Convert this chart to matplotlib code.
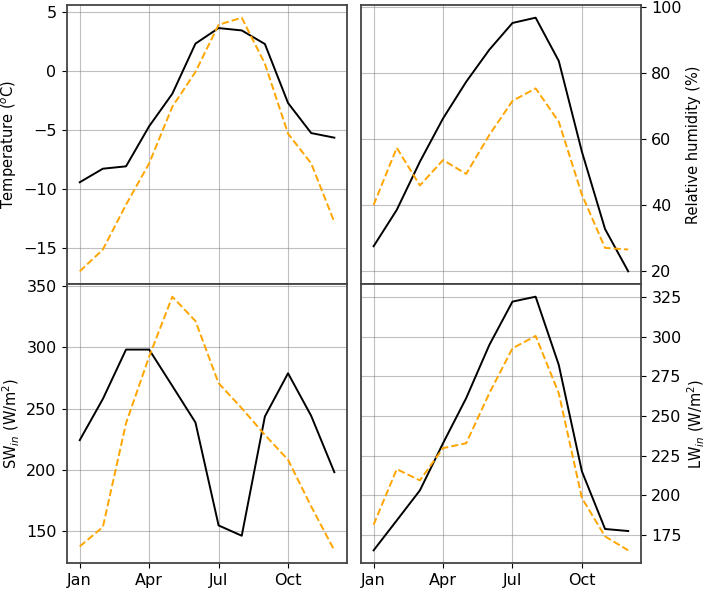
import matplotlib.pyplot as plt
import numpy as np

months = np.arange(1, 13)
tick_pos = [1, 4, 7, 10]
tick_labels = ['Jan', 'Apr', 'Jul', 'Oct']

temp_black = [-9.4, -8.25, -8.05, -4.65, -1.9, 2.35, 3.67, 3.47, 2.32, -2.68, -5.23, -5.62]
temp_orange = [-16.95, -15.1, -11.3, -7.8, -3.0, -0.05, 3.95, 4.55, 0.65, -5.28, -7.8, -12.77]

rh_black = [27.6, 38.6, 53.2, 66.3, 77.4, 87.1, 95.2, 96.8, 83.7, 56.2, 32.8, 20.0]
rh_orange = [40.1, 57.4, 46.0, 53.7, 49.5, 61.3, 71.6, 75.4, 65.3, 43.2, 27.1, 26.6]

sw_black = [224.3, 257.9, 298.1, 298.1, 268.5, 238.7, 154.8, 146.4, 243.6, 278.8, 244.1, 198.2]
sw_orange = [137.7, 153.5, 238.1, 292.4, 341.2, 321.4, 270.7, 250.3, 228.6, 208.3, 170.3, 134.5]

lw_black = [165.1, 184.0, 203.0, 232.8, 261.3, 294.9, 322.3, 325.4, 282.3, 215.0, 178.6, 177.3]
lw_orange = [181.3, 216.4, 209.3, 229.7, 232.8, 264.4, 292.8, 300.6, 264.4, 198.1, 173.9, 165.1]

fig = plt.figure(figsize=(7.09, 5.89), dpi=100)

x0, x1 = 0.0945, 0.509
w = 0.395
ybot, ymid = 0.0441, 0.5178
h = 0.4737

ax_t = fig.add_axes([x0, ymid, w, h])
ax_rh = fig.add_axes([x1, ymid, w, h])
ax_sw = fig.add_axes([x0, ybot, w, h])
ax_lw = fig.add_axes([x1, ybot, w, h])

panels = [
    (ax_t, temp_black, temp_orange, 'Temperature ($^o$C)', False, False),
    (ax_rh, rh_black, rh_orange, 'Relative humidity (%)', True, False),
    (ax_sw, sw_black, sw_orange, 'SW$_{in}$ (W/m$^2$)', False, True),
    (ax_lw, lw_black, lw_orange, 'LW$_{in}$ (W/m$^2$)', True, True),
]

for ax, blk, org, label, right, bottom in panels:
    ax.plot(months, blk, color='black', lw=1.4)
    ax.plot(months, org, color='orange', lw=1.4, ls='--')
    ax.grid(True, color='gray', alpha=0.5, lw=0.8)
    ax.set_xticks(tick_pos)
    if bottom:
        ax.set_xticklabels(tick_labels)
    else:
        ax.set_xticklabels([])
    ax.tick_params(labelsize=11.5, pad=4)
    ax.set_ylabel(label, fontsize=10.5, labelpad=3)
    if right:
        ax.yaxis.tick_right()
        ax.yaxis.set_label_position('right')
    for s in ax.spines.values():
        s.set_color('#444444')
        s.set_linewidth(1.3)

ax_t.set_yticks([-15, -10, -5, 0, 5])
ax_rh.set_yticks([20, 40, 60, 80, 100])
ax_sw.set_yticks([150, 200, 250, 300, 350])
ax_lw.set_yticks([175, 200, 225, 250, 275, 300, 325])

fig.savefig('out.png', dpi=100)
